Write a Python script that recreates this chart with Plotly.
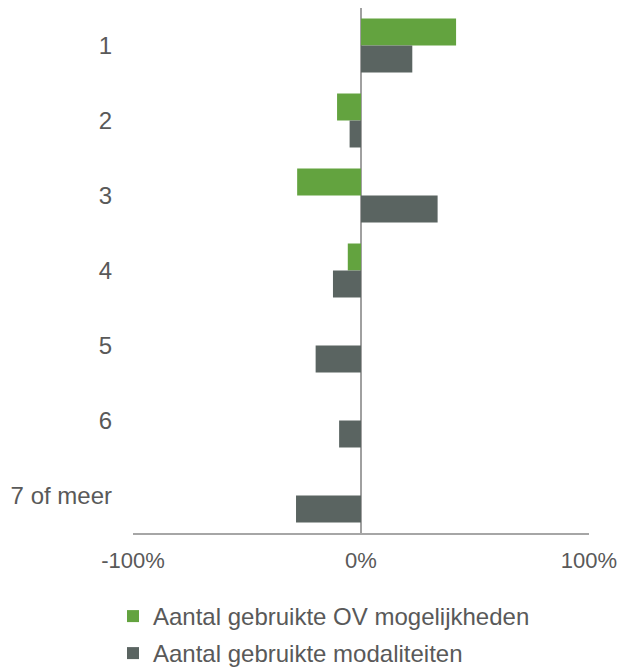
import plotly.graph_objects as go

categories = ["1", "2", "3", "4", "5", "6", "7 of meer"]
ov_mogelijkheden = [0.417, -0.105, -0.28, -0.058, 0.0, 0.0, 0.0]
modaliteiten = [0.225, -0.05, 0.336, -0.123, -0.199, -0.096, -0.285]
tick_values = [-1, 0, 1]
tick_labels = ["-100%", "0%", "100%"]

series_names = ["Aantal gebruikte OV mogelijkheden", "Aantal gebruikte modaliteiten"]
colors = ["#63A33F", "#5A6461"]
text_color = "#595959"
font_family = "Liberation Sans, Arial, sans-serif"

fig = go.Figure()
for name, values, color, leg in zip(series_names, [ov_mogelijkheden, modaliteiten], colors, ["legend", "legend2"]):
    fig.add_trace(go.Bar(
        y=categories, x=values, name=name, orientation="h",
        marker=dict(color=color, line=dict(width=0)),
        legend=leg,
    ))

# one legend box per series so the two rows can be spaced like the original
legend_style = dict(
    xanchor="left", yanchor="top",
    font=dict(size=24, color=text_color),
    bgcolor="rgba(0,0,0,0)",
)

fig.update_layout(
    width=625, height=669,
    margin=dict(l=133, r=36, t=8, b=136, autoexpand=False),
    paper_bgcolor="white", plot_bgcolor="white",
    barmode="group", bargap=0.28, bargroupgap=0,
    font=dict(family=font_family, size=24, color=text_color),
    showlegend=True,
    legend=dict(x=-20 / 456, y=-61 / 525, **legend_style),
    legend2=dict(x=-20 / 456, y=-98 / 525, **legend_style),
    xaxis=dict(
        range=[-1, 1], tickvals=tick_values, ticktext=tick_labels, tickangle=0,
        tickfont=dict(size=22),
        showgrid=False, zeroline=True, zerolinecolor="#A0A0A0", zerolinewidth=2,
        showline=True, linecolor="#A6A6A6", linewidth=2,
        ticks="", ticklabelstandoff=7, layer="above traces",
        automargin=False, fixedrange=True,
    ),
    yaxis=dict(
        autorange="reversed", showgrid=False, zeroline=False, showline=False,
        ticks="", ticklabelstandoff=20, automargin=False, fixedrange=True,
    ),
)

# drop the default body margin so the figure fills the window exactly
fig.write_html(
    "out.html",
    config={"displayModeBar": False},
    post_script="document.body.style.margin = '0';",
)
